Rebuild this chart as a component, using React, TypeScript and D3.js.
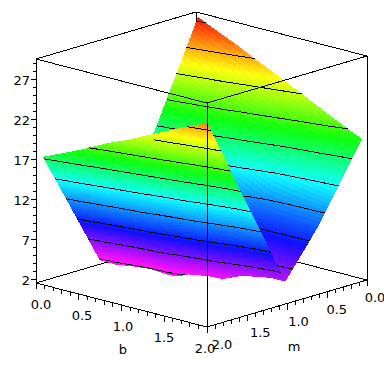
import React from 'react'
import { scaleLinear, hsl, range, line } from 'd3'

// stations along b
const bStations = [0.08, 0.25, 0.4, 0.6, 0.8, 0.9, 1.0, 1.2, 1.35, 1.55, 1.7, 1.85, 2.0]
// the fold of the surface
const valleyM = [1.29, 1.265, 1.245, 1.215, 1.19, 1.175, 1.16, 1.13, 1.11, 1.085, 1.06, 1.04, 1.02]
const valleyZ = [2.5, 2.3, 2.5, 2.6, 2.3, 2.4, 2.85, 3.1, 3.1, 3.95, 4.2, 4.4, 4.3]
// height along m = 2
const nearZ = [17.5, 18.3, 19.0, 20.0, 21.1, 21.6, 22.0, 23.0, 23.8, 24.8, 25.6, 26.3, 27.0]
// height along m = 0.6
const shoulderZ = [16.7, 16.0, 15.4, 14.6, 13.4, 12.9, 12.4, 11.2, 10.4, 10.2, 10.1, 10.1, 10.1]
// height along m = 0.06
const farZ = [29.3, 28.4, 27.7, 26.7, 25.6, 25.1, 24.6, 23.5, 22.7, 21.6, 20.8, 20.0, 19.3]

const nearM = 2
const shoulderM = 0.6
const farM = 0.06

const contourLevels = [2.7, 5.6, 8.5, 11.4, 14.3, 17.2, 20.1, 23.0, 25.9, 28.8]

const bTickLabels = ['0.0', '0.5', '1.0', '1.5', '2.0']
const mTickLabels = ['0.0', '0.5', '1.0', '1.5', '2.0']
const zTickLabels = ['2', '7', '12', '17', '22', '27']

const zDomain = [1.5, 29.5]

// heights where the colour passes magenta, blue, cyan, green, yellow, red
const hueStops = [3, 8, 14.2, 19, 24.2, 29.3]
const hueValues = [300, 240, 180, 120, 60, 0]

// box projection (orthographic)
const ox = 36, oy = 283
const bX = scaleLinear().domain([0, 2]).range([0, 171])
const bY = scaleLinear().domain([0, 2]).range([0, 44])
const mX = scaleLinear().domain([2, 0]).range([0, 160])
const mY = scaleLinear().domain([2, 0]).range([0, -47])
const zY = scaleLinear().domain(zDomain).range([0, -224])

type Pt = [number, number]
const project = (b: number, m: number, z: number): Pt => [
  ox + bX(b) + mX(m),
  oy + bY(b) + mY(m) + zY(z),
]

const hue = scaleLinear().domain(hueStops).range(hueValues).clamp(true)
const zColor = (z: number) => hsl(hue(z), 1, 0.53).formatHex()

const lerp = (a: number, b: number, t: number) => a + (b - a) * t
const pathOf = line()

// node i of a cross section at a station: 0 near, 1 valley, 2 shoulder, 3 far
const node = (st: number, n: number) => {
  const b = bStations[st]
  if (n === 0) return { b, m: nearM, z: nearZ[st] }
  if (n === 1) return { b, m: valleyM[st], z: valleyZ[st] }
  if (n === 2) return { b, m: shoulderM, z: shoulderZ[st] }
  return { b, m: farM, z: farZ[st] }
}

function quads(section: number, nb: number, nm: number) {
  const out: { d: string; fill: string }[] = []
  for (let st = 0; st < bStations.length - 1; st++) {
    const a = node(st, section), b = node(st + 1, section)
    const c = node(st + 1, section + 1), d = node(st, section + 1)
    const at = (u: number, v: number) => {
      const p = { b: lerp(a.b, b.b, u), m: lerp(a.m, b.m, u), z: lerp(a.z, b.z, u) }
      const q = { b: lerp(d.b, c.b, u), m: lerp(d.m, c.m, u), z: lerp(d.z, c.z, u) }
      return { b: lerp(p.b, q.b, v), m: lerp(p.m, q.m, v), z: lerp(p.z, q.z, v) }
    }
    for (let i = 0; i < nb; i++) {
      for (let j = 0; j < nm; j++) {
        const corners = [[i, j], [i + 1, j], [i + 1, j + 1], [i, j + 1]].map(([x, y]) => at(x / nb, y / nm))
        const mid = at((i + 0.5) / nb, (j + 0.5) / nm)
        out.push({
          d: pathOf(corners.map(p => project(p.b, p.m, p.z))) + 'Z',
          fill: zColor(mid.z),
        })
      }
    }
  }
  return out
}

function contourPath(section: number) {
  let d = ''
  for (let st = 0; st < bStations.length - 1; st++) {
    const ring = [node(st, section), node(st + 1, section), node(st + 1, section + 1), node(st, section + 1)]
    contourLevels.forEach(level => {
      const hits: Pt[] = []
      ring.forEach((p, k) => {
        const q = ring[(k + 1) % 4]
        if ((p.z - level) * (q.z - level) < 0) {
          const t = (level - p.z) / (q.z - p.z)
          hits.push(project(lerp(p.b, q.b, t), lerp(p.m, q.m, t), level))
        }
      })
      if (hits.length === 2) d += pathOf(hits)
    })
  }
  return d
}

const farQuads = [...quads(2, 4, 24), ...quads(1, 4, 30)]
const nearQuads = quads(0, 4, 60)
const farContours = contourPath(2) + contourPath(1)
const nearContours = contourPath(0)

const [zLo, zHi] = zDomain
const edge = (p: Pt[]) => pathOf(p)
const backEdges = [
  edge([project(0, 2, zHi), project(0, 0, zHi), project(2, 0, zHi)]),
  edge([project(0, 0, zHi), project(0, 0, zLo)]),
  edge([project(0, 2, zLo), project(0, 0, zLo), project(2, 0, zLo)]),
].join('')
const frontEdges = [
  edge([project(0, 2, zHi), project(2, 2, zHi), project(2, 0, zHi)]),
  edge([project(0, 2, zHi), project(0, 2, zLo), project(2, 2, zLo), project(2, 0, zLo), project(2, 0, zHi)]),
  edge([project(2, 2, zHi), project(2, 2, zLo)]),
].join('')

// minor ticks every 0.1 on the floor axes, every 1 on z
const floorTicks = range(0, 21).map(i => i / 10)
const zTicks = range(2, 30)

const tickPath = [
  ...floorTicks.map(t => {
    const [x, y] = project(t, 2, zLo)
    return edge([[x, y], [x, y + (Math.round(t * 10) % 5 === 0 ? 6 : 4)]])
  }),
  ...floorTicks.map(t => {
    const [x, y] = project(2, t, zLo)
    return edge([[x, y], [x, y + (Math.round(t * 10) % 5 === 0 ? 6 : 4)]])
  }),
  ...zTicks.map(t => {
    const [x, y] = project(0, 2, t)
    return edge([[x - ((t - 2) % 5 === 0 ? 5 : 3), y], [x, y]])
  }),
].join('')

const font = { fontFamily: '"DejaVu Sans", sans-serif', fontSize: 13, fill: '#000' }

export default function App() {
  return (
    <svg
      width={384}
      height={384}
      viewBox="0 0 384 384"
      style={{ position: 'absolute', left: 0, top: 0, background: '#fff' }}
    >
      <g fill="none" stroke="#000" shapeRendering="crispEdges">
        <path d={backEdges} />
      </g>
      <g shapeRendering="crispEdges">
        {farQuads.map((q, i) => <path key={i} d={q.d} fill={q.fill} />)}
      </g>
      <path d={farContours} fill="none" stroke="#000" shapeRendering="crispEdges" />
      <g shapeRendering="crispEdges">
        {nearQuads.map((q, i) => <path key={i} d={q.d} fill={q.fill} />)}
      </g>
      <path d={nearContours} fill="none" stroke="#000" shapeRendering="crispEdges" />
      <path d={frontEdges + tickPath} fill="none" stroke="#000" shapeRendering="crispEdges" />

      <g {...font} textAnchor="end">
        {zTickLabels.map(l => {
          const [x, y] = project(0, 2, +l)
          return <text key={l} x={x - 6} y={y + 6}>{l}</text>
        })}
      </g>
      <g {...font} textAnchor="middle">
        {bTickLabels.map(l => {
          const [x, y] = project(+l, 2, zLo)
          return <text key={l} x={x + 5 - 3.5 * +l} y={y + 26}>{l}</text>
        })}
        {mTickLabels.map(l => {
          const [x, y] = project(2, +l, zLo)
          return <text key={l} x={x + 8 + 3.5 * +l} y={y + 22}>{l}</text>
        })}
        <text x={123} y={354}>b</text>
        <text x={294} y={351}>m</text>
      </g>
    </svg>
  )
}
